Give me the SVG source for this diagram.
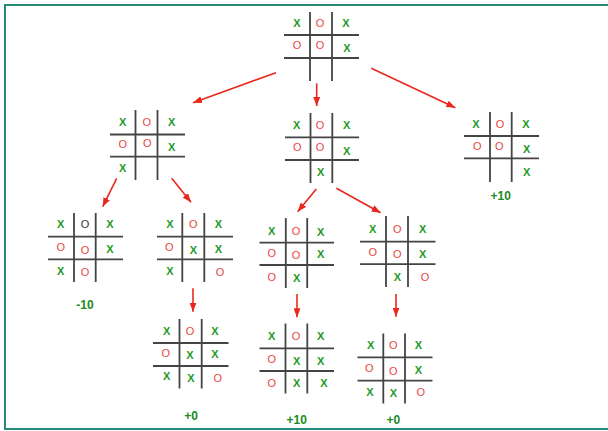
<svg xmlns="http://www.w3.org/2000/svg" width="608" height="431" viewBox="0 0 608 431">
<defs>
<style>
.g{stroke:#444;stroke-width:1.8;fill:none}
text{font-family:"Liberation Sans",Arial,sans-serif;font-size:11px;text-anchor:middle}
.x{fill:#1f9a2a;font-weight:bold}
.o{fill:#e8473f}
.ob{fill:#333}
.s{fill:#1b8a22;font-weight:bold;font-size:12px}
.a{stroke:#e8281c;stroke-width:1.6;fill:none;marker-end:url(#ah)}
</style>
<marker id="ah" markerWidth="9" markerHeight="7" refX="9" refY="3.5" orient="auto" markerUnits="userSpaceOnUse">
<path d="M0,0 L9,3.5 L0,7 z" fill="#e8281c"/>
</marker>
</defs>
<rect x="0" y="0" width="608" height="431" fill="#fff"/>
<path d="M612,5 H5 V429 H612" fill="none" stroke="#2a8a78" stroke-width="2"/>

<g id="connectors">
<line class="a" x1="276" y1="72.7" x2="193" y2="102.7"/>
<line class="a" x1="316.7" y1="83.3" x2="316.7" y2="106"/>
<line class="a" x1="371.3" y1="68.3" x2="455.4" y2="107.7"/>
<line class="a" x1="116.7" y1="178.3" x2="102.7" y2="206.7"/>
<line class="a" x1="171.7" y1="178.3" x2="191" y2="202.3"/>
<line class="a" x1="316.3" y1="189" x2="297.7" y2="211.7"/>
<line class="a" x1="336.4" y1="188.3" x2="380.6" y2="212.7"/>
<line class="a" x1="193" y1="288.3" x2="193" y2="311.7"/>
<line class="a" x1="297" y1="294" x2="297" y2="317.3"/>
<line class="a" x1="396" y1="294" x2="396" y2="316.7"/>
</g>

<g id="board-root">
<path class="g" d="M310,12V81M332,12V81M284,35H359M284,58H359"/>
<text class="x" x="297" y="27">X</text><text class="o" x="320" y="27">O</text><text class="x" x="346" y="27">X</text>
<text class="o" x="297" y="49">O</text><text class="o" x="320" y="49">O</text><text class="x" x="347" y="52">X</text>
</g>

<g id="board-l1">
<path class="g" d="M135.5,110V180M157.5,110V180M110,134.5H185M110,156.7H185"/>
<text class="x" x="122.7" y="126.3">X</text><text class="o" x="146.7" y="126.3">O</text><text class="x" x="171.7" y="126.3">X</text>
<text class="o" x="122.7" y="148">O</text><text class="o" x="147.3" y="147.3">O</text><text class="x" x="171.7" y="150.7">X</text>
<text class="x" x="122.7" y="172">X</text>
</g>

<g id="board-m1">
<path class="g" d="M310.5,113V183M332.3,113V183M285,137.3H359M285,160H359"/>
<text class="x" x="296.7" y="129">X</text><text class="o" x="320" y="129">O</text><text class="x" x="346.7" y="129">X</text>
<text class="o" x="297.3" y="151.3">O</text><text class="o" x="320" y="150.7">O</text><text class="x" x="346.7" y="154.7">X</text>
<text class="x" x="320.7" y="175.7">X</text>
</g>

<g id="board-r1">
<path class="g" d="M490,112V182M511.7,112V182M464,136H539M464,158.3H539"/>
<text class="x" x="476" y="128">X</text><text class="o" x="500" y="128">O</text><text class="x" x="526" y="128">X</text>
<text class="o" x="477.3" y="150">O</text><text class="o" x="499.3" y="150">O</text><text class="x" x="526.7" y="153.3">X</text>
<text class="x" x="526.7" y="175.7">X</text>
<text class="s" x="500.7" y="200.3">+10</text>
</g>

<g id="board-ll">
<path class="g" d="M74,213V282M95.7,213V282M48,236.7H123M48,259.3H123"/>
<text class="x" x="60.7" y="228">X</text><text class="ob" x="85" y="228">O</text><text class="x" x="110" y="228">X</text>
<text class="o" x="60.7" y="250.7">O</text><text class="o" x="85" y="254">O</text><text class="x" x="110" y="253.3">X</text>
<text class="x" x="60.7" y="274.7">X</text><text class="o" x="85" y="275.7">O</text>
<text class="s" x="85" y="309.3">-10</text>
</g>

<g id="board-lr">
<path class="g" d="M182.3,213V282M204.3,213V282M157,236.7H233M157,259.3H233"/>
<text class="x" x="170" y="228">X</text><text class="o" x="193.3" y="228">O</text><text class="x" x="218.3" y="228">X</text>
<text class="o" x="169.3" y="250.7">O</text><text class="x" x="193.3" y="254">X</text><text class="x" x="218.3" y="253.3">X</text>
<text class="x" x="170" y="274.7">X</text><text class="o" x="220" y="275.7">O</text>
</g>

<g id="board-mm">
<path class="g" d="M285.8,218V288M307.2,218V288M259.5,242.7H334M259.5,265H334"/>
<text class="x" x="271.7" y="234.7">X</text><text class="o" x="296" y="234.7">O</text><text class="x" x="320.7" y="235.7">X</text>
<text class="o" x="271.7" y="257.3">O</text><text class="o" x="296" y="259">O</text><text class="x" x="320.7" y="258">X</text>
<text class="o" x="271.7" y="281.3">O</text><text class="x" x="296.7" y="282.3">X</text>
</g>

<g id="board-mr">
<path class="g" d="M386,216V287M408,216V287M360,241.7H435.5M360,264.2H435.5"/>
<text class="x" x="372.7" y="233.3">X</text><text class="o" x="397.3" y="233.3">O</text><text class="x" x="422.7" y="233.3">X</text>
<text class="o" x="372.7" y="255.7">O</text><text class="o" x="397.3" y="258">O</text><text class="x" x="422.7" y="258">X</text>
<text class="x" x="397.3" y="281.3">X</text><text class="o" x="425" y="281.3">O</text>
</g>

<g id="board-lr-child">
<path class="g" d="M179.5,319V388.5M201.7,319V388.5M153,343H228.5M153,366H228.5"/>
<text class="x" x="166.7" y="334.7">X</text><text class="o" x="190" y="334.7">O</text><text class="x" x="215" y="334.7">X</text>
<text class="o" x="165.7" y="357.3">O</text><text class="x" x="190" y="359">X</text><text class="x" x="215" y="358.3">X</text>
<text class="x" x="166.7" y="380">X</text><text class="x" x="191" y="382.3">X</text><text class="o" x="217.7" y="382.3">O</text>
<text class="s" x="191" y="420.3">+0</text>
</g>

<g id="board-mm-child">
<path class="g" d="M285.5,323.5V393.5M307.3,323.5V393.5M259.5,348.3H334M259.5,371H334"/>
<text class="x" x="271.7" y="339.7">X</text><text class="o" x="296" y="339.7">O</text><text class="x" x="320.7" y="339.7">X</text>
<text class="o" x="271.7" y="363">O</text><text class="x" x="296.7" y="364.7">X</text><text class="x" x="320.7" y="364.7">X</text>
<text class="o" x="271.7" y="386.7">O</text><text class="x" x="296.7" y="386.7">X</text><text class="x" x="324" y="386.7">X</text>
<text class="s" x="296.7" y="423.6">+10</text>
</g>

<g id="board-mr-child">
<path class="g" d="M383.3,333.5V403.5M405,333.5V403.5M357.5,357.3H432.5M357.5,380.7H432.5"/>
<text class="x" x="370.7" y="349">X</text><text class="o" x="393.3" y="349">O</text><text class="x" x="418.3" y="349">X</text>
<text class="o" x="369.3" y="372.3">O</text><text class="o" x="393.3" y="374.7">O</text><text class="x" x="418.3" y="374">X</text>
<text class="x" x="370" y="395.7">X</text><text class="x" x="393.3" y="396.7">X</text><text class="o" x="420.7" y="395.7">O</text>
<text class="s" x="393.3" y="424.3">+0</text>
</g>
</svg>
